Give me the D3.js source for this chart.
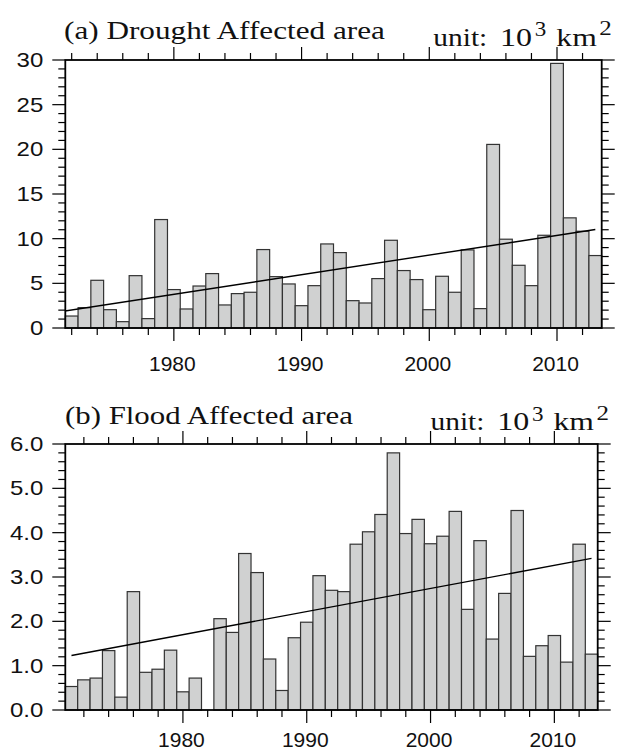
<!DOCTYPE html>
<html>
<head>
<meta charset="utf-8">
<script src="https://cdn.jsdelivr.net/npm/d3@7"></script>
<style>
  html, body { margin: 0; padding: 0; background: #fff; }
  svg { display: block; }
</style>
</head>
<body>
<svg id="chart" width="624" height="754"></svg>
<script>
// ---------- data ----------
const droughtYears = [1972,1973,1974,1975,1976,1977,1978,1979,1980,1981,
  1982,1983,1984,1985,1986,1987,1988,1989,1990,1991,
  1992,1993,1994,1995,1996,1997,1998,1999,2000,2001,
  2002,2003,2004,2005,2006,2007,2008,2009,2010,2011,2012,2013];
const droughtArea = [1.34,2.28,5.34,2.05,0.71,5.86,1.05,12.14,4.3,2.13,
  4.7,6.09,2.58,3.85,4.0,8.78,5.75,4.93,2.5,4.74,
  9.41,8.44,3.06,2.8,5.53,9.82,6.43,5.42,2.05,5.79,
  4.0,8.74,2.17,20.55,9.94,7.02,4.74,10.38,29.62,12.33,10.83,8.11];
const droughtTrend = [[1971, 1.79], [2013, 11.02]];

const floodYears = [1971,1972,1973,1974,1975,1976,1977,1978,1979,1980,
  1981,1982,1983,1984,1985,1986,1987,1988,1989,1990,
  1991,1992,1993,1994,1995,1996,1997,1998,1999,2000,
  2001,2002,2003,2004,2005,2006,2007,2008,2009,2010,2011,2012,2013];
const floodArea = [0.53,0.68,0.72,1.34,0.29,2.67,0.85,0.92,1.35,0.41,
  0.72,0,2.06,1.75,3.53,3.10,1.15,0.44,1.63,1.98,
  3.03,2.70,2.67,3.74,4.02,4.41,5.80,3.98,4.30,3.75,
  3.92,4.48,2.27,3.82,1.60,2.63,4.50,1.21,1.45,1.68,1.08,3.74,1.26];
const floodTrend = [[1971, 1.23], [2013, 3.42]];

const xMajorTicks = [1980, 1990, 2000, 2010];
const xMinorTicks = [1972,1974,1976,1978,1982,1984,1986,1988,1992,1994,1996,1998,2002,2004,2006,2008,2012];
const droughtYTicks = [0, 5, 10, 15, 20, 25, 30];
const floodYTicks = [0, 1, 2, 3, 4, 5, 6];

const svg = d3.select("#chart");
const SANS = "Liberation Sans, Arial, sans-serif";
const SERIF = "Liberation Serif, Times New Roman, serif";

// place text whose left edge is at x (or right edge if anchor end), horizontally stretched
function stretched(parent, str, x, y, size, family, opts) {
  const t = parent.append("text")
    .attr("x", 0).attr("y", 0)
    .attr("font-family", family).attr("font-size", size).attr("fill", "#111")
    .text(str);
  const w = t.node().getComputedTextLength();
  let sx = opts.sx || 1;
  if (opts.width) sx = opts.width / w;
  const ox = opts.anchor === "end" ? x - w * sx : x;
  t.attr("transform", `translate(${ox},${y}) scale(${sx},1)`);
  return t;
}

function panel(cfg) {
  const g = svg.append("g");
  const x = d3.scaleLinear().domain(cfg.xDomain).range([cfg.left, cfg.right]);
  const y = d3.scaleLinear().domain(cfg.yDomain).range([cfg.bottom, cfg.top]);
  const data = cfg.years.map((yr, i) => ({ yr, v: cfg.values[i] })).filter(d => d.v > 0);

  const clipId = "clip" + cfg.id;
  svg.append("clipPath").attr("id", clipId).append("rect")
    .attr("x", cfg.left).attr("y", cfg.top)
    .attr("width", cfg.right - cfg.left).attr("height", cfg.bottom - cfg.top);

  // bars
  g.append("g").selectAll("rect").data(data).join("rect")
    .attr("x", d => x(d.yr - 0.5))
    .attr("width", d => x(d.yr + 0.5) - x(d.yr - 0.5))
    .attr("y", d => y(d.v))
    .attr("height", d => y(0) - y(d.v))
    .attr("fill", "#d0d1d1")
    .attr("stroke", "#333")
    .attr("stroke-width", 1.2);

  // trend line
  g.append("path")
    .attr("clip-path", `url(#${clipId})`)
    .attr("d", d3.line().x(d => x(d[0])).y(d => y(d[1]))(cfg.trend))
    .attr("fill", "none").attr("stroke", "#000").attr("stroke-width", 1.4);

  const major = 13, minor = 7;
  const tickStyle = s => s.attr("stroke", "#000").attr("stroke-width", 1.2);

  // x ticks (bottom & top)
  const xt = g.append("g");
  xMajorTicks.forEach(t => {
    xt.append("line").attr("x1", x(t)).attr("x2", x(t)).attr("y1", cfg.bottom).attr("y2", cfg.bottom + major).call(tickStyle);
    xt.append("line").attr("x1", x(t)).attr("x2", x(t)).attr("y1", cfg.top).attr("y2", cfg.top - major).call(tickStyle);
  });
  xMinorTicks.forEach(t => {
    xt.append("line").attr("x1", x(t)).attr("x2", x(t)).attr("y1", cfg.bottom).attr("y2", cfg.bottom + minor).call(tickStyle);
    xt.append("line").attr("x1", x(t)).attr("x2", x(t)).attr("y1", cfg.top).attr("y2", cfg.top - minor).call(tickStyle);
  });
  xt.selectAll("text").data(xMajorTicks).join("text")
    .attr("x", d => x(d) - 1.5).attr("y", cfg.xLabelBaseline)
    .attr("text-anchor", "middle")
    .attr("font-family", SANS)
    .attr("font-size", 21).attr("fill", "#111")
    .text(d => d);

  // y ticks (left & right)
  const yt = g.append("g");
  const ymin = d3.range(cfg.yDomain[0], cfg.yDomain[1] + 1e-9, cfg.yMinorStep);
  ymin.forEach(v => {
    const isMajor = cfg.yTicks.some(t => Math.abs(t - v) < 1e-6);
    const len = isMajor ? major : minor;
    yt.append("line").attr("x1", cfg.left).attr("x2", cfg.left - len).attr("y1", y(v)).attr("y2", y(v)).call(tickStyle);
    yt.append("line").attr("x1", cfg.right).attr("x2", cfg.right + len).attr("y1", y(v)).attr("y2", y(v)).call(tickStyle);
  });
  cfg.yTicks.forEach(d => {
    stretched(yt, cfg.yFormat(d), cfg.left - 22, y(d) + 7, 20, SANS, { sx: 1.2, anchor: "end" });
  });

  // frame
  g.append("rect")
    .attr("x", cfg.left).attr("y", cfg.top)
    .attr("width", cfg.right - cfg.left).attr("height", cfg.bottom - cfg.top)
    .attr("fill", "none").attr("stroke", "#000").attr("stroke-width", 1.8);

  // titles
  stretched(g, cfg.title, cfg.titleX, cfg.titleY, 26, SERIF, { width: cfg.titleLen });
  const ux = cfg.unitX, uy = cfg.unitY;
  stretched(g, "unit:", ux, uy, 26, SERIF, { width: 54 });
  stretched(g, "10", ux + 66.7, uy, 26, SERIF, { width: 32 });
  stretched(g, "3", ux + 101.5, uy - 9.5, 20, SERIF, { width: 11.5 });
  stretched(g, "km", ux + 123, uy, 26, SERIF, { width: 40.5 });
  stretched(g, "2", ux + 166, uy - 10.5, 20, SERIF, { width: 12.5 });
}

panel({
  id: "a", years: droughtYears, values: droughtArea, trend: droughtTrend,
  xDomain: [1971.5, 2013.5], yDomain: [0, 30], yTicks: droughtYTicks, yMinorStep: 1,
  yFormat: d3.format("d"),
  left: 65.3, right: 601.7, top: 60, bottom: 328, xLabelBaseline: 370.5,
  title: "(a) Drought Affected area", titleX: 64, titleY: 39, titleLen: 321,
  unitX: 433.3, unitY: 45.7
});

panel({
  id: "b", years: floodYears, values: floodArea, trend: floodTrend,
  xDomain: [1970.5, 2013.5], yDomain: [0, 6], yTicks: floodYTicks, yMinorStep: 0.2,
  yFormat: d3.format(".1f"),
  left: 65.3, right: 597.7, top: 444, bottom: 710, xLabelBaseline: 747,
  title: "(b) Flood Affected area", titleX: 65, titleY: 424, titleLen: 288,
  unitX: 430.5, unitY: 430
});
</script>
</body>
</html>
